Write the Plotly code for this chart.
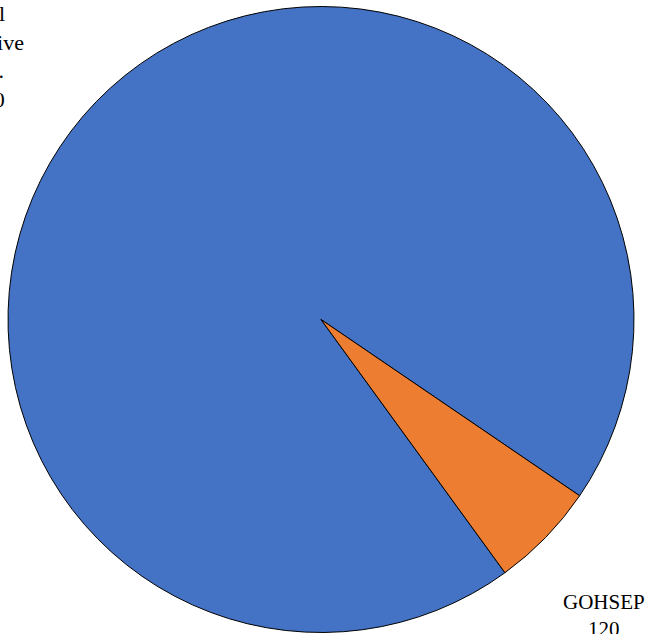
import plotly.graph_objects as go

labels = ["Local<br>Executive<br>Dept.", "GOHSEP"]
values = [2070, 120]
colors = ["#4472C4", "#ED7D31"]

W, H = 646, 634
ml, mr, mt, mb = 8, 12, 6, 1
pw, ph = W - ml - mr, H - mt - mb

fig = go.Figure(go.Pie(
    labels=labels,
    values=values,
    sort=False,
    direction="clockwise",
    rotation=144,
    textinfo="none",
    hoverinfo="label+value",
    marker=dict(colors=colors, line=dict(color="black", width=1)),
    showlegend=False,
))

def px_to_paper(x, y):
    return (x - ml) / pw, 1 - (y - mt) / ph

label_pos = [(-20, 57), (604, 615)]
label_size = [22, 21]
for lab, val, (px, py), fs in zip(labels, values, label_pos, label_size):
    xp, yp = px_to_paper(px, py)
    fig.add_annotation(
        x=xp, y=yp, xref="paper", yref="paper",
        text=f"{lab}<br>{val:,}",
        showarrow=False, xanchor="center", yanchor="middle",
        align="center",
        font=dict(family="Liberation Serif", size=fs, color="#000000"),
    )

fig.update_layout(
    width=W, height=H,
    margin=dict(l=ml, r=mr, t=mt, b=mb),
    paper_bgcolor="white",
    plot_bgcolor="white",
)

fig.write_html("out.html", config={"displayModeBar": False},
               post_script="document.body.style.margin='0';")
